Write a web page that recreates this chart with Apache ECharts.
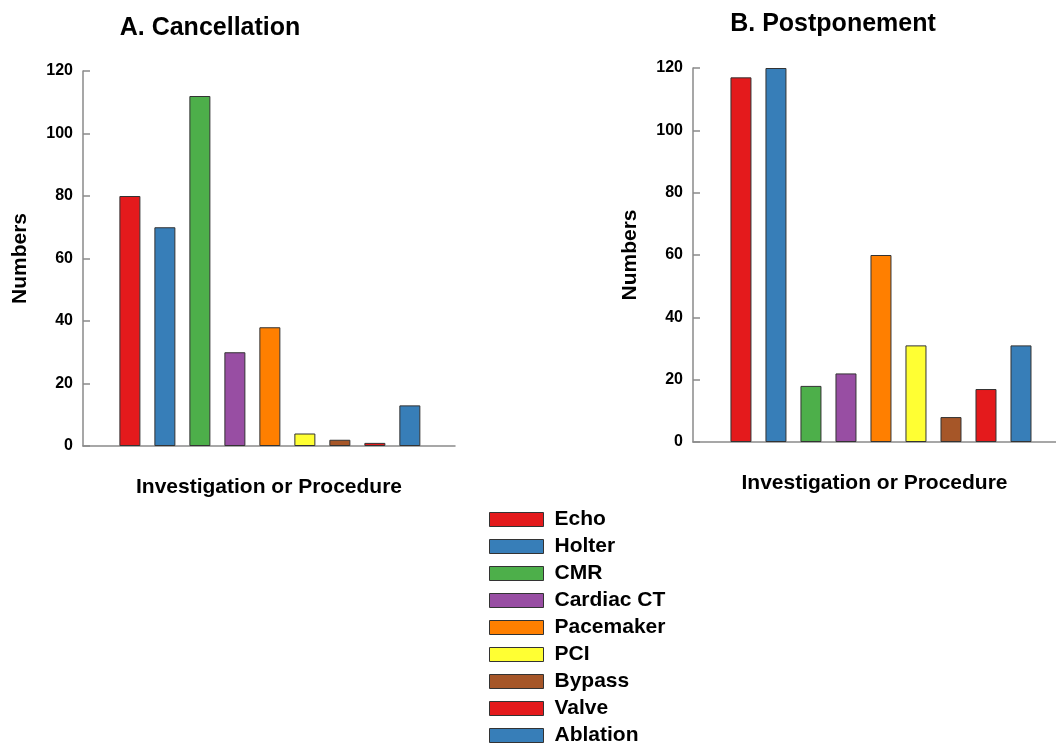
<!DOCTYPE html>
<html>
<head>
<meta charset="utf-8">
<script src="https://cdn.jsdelivr.net/npm/echarts@6/dist/echarts.min.js"></script>
<style>
  html, body { margin: 0; padding: 0; background: #fff; }
  #main { width: 1056px; height: 745px; }
</style>
</head>
<body>
<div id="main"></div>
<script>
  // categories and colours (one bar per category)
  var categories = ['Echo', 'Holter', 'CMR', 'Cardiac CT', 'Pacemaker', 'PCI', 'Bypass', 'Valve', 'Ablation'];
  var colors = ['#E41A1C', '#377EB8', '#4DAF4A', '#984EA3', '#FF7F00', '#FFFF33', '#A65628', '#E41A1C', '#377EB8'];
  var cancellation = [80, 70, 112, 30, 38, 4, 2, 1, 13];
  var postponement = [117, 120, 18, 22, 60, 31, 8, 17, 31];
  var yTicks = [0, 20, 40, 60, 80, 100, 120];

  var font = '"Liberation Sans", Arial, sans-serif';
  var axisGray = '#8a8a8a';

  function xAxisOpt(idx, min, max) {
    return {
      gridIndex: idx,
      type: 'value',
      min: min,
      max: max,
      name: 'Investigation or Procedure',
      nameLocation: 'middle',
      nameGap: 31,
      nameTextStyle: { fontFamily: font, fontWeight: 'bold', fontSize: 21, color: '#000' },
      axisLine: { show: true, onZero: false, lineStyle: { color: axisGray, width: 1.5 } },
      axisTick: { show: false },
      axisLabel: { show: false },
      splitLine: { show: false }
    }
  }

  function yAxisOpt(idx) {
    return {
      gridIndex: idx,
      type: 'value',
      min: yTicks[0],
      max: yTicks[yTicks.length - 1],
      interval: 20,
      name: 'Numbers',
      nameLocation: 'middle',
      nameRotate: 90,
      nameGap: 52,
      nameTextStyle: { fontFamily: font, fontWeight: 'bold', fontSize: 21, color: '#000' },
      axisLine: { show: true, onZero: false, lineStyle: { color: axisGray, width: 1.5 } },
      axisTick: { show: true, inside: true, length: 7, lineStyle: { color: axisGray, width: 1.5 } },
      axisLabel: { fontFamily: font, fontWeight: 'bold', fontSize: 16, color: '#000', margin: 10 },
      splitLine: { show: false }
    }
  }

  var series = []
  ;[cancellation, postponement].forEach(function (vals, g) {
    categories.forEach(function (name, i) {
      series.push({
        name: name,
        type: 'bar',
        xAxisIndex: g,
        yAxisIndex: g,
        barWidth: 21,
        barGap: '-100%',
        data: [[i, vals[i]]],
        itemStyle: { color: colors[i], borderColor: '#333', borderWidth: 1 }
      })
    })
  })

  var myChart = echarts.init(document.getElementById('main'))
  myChart.setOption({
    animation: false,
    title: [{
      text: 'A. Cancellation',
      left: 205,
      top: 11,
      textAlign: 'center',
      textStyle: { fontFamily: font, fontWeight: 'bold', fontSize: 25, color: '#000' }
    }, {
      text: 'B. Postponement',
      left: 828,
      top: 7,
      textAlign: 'center',
      textStyle: { fontFamily: font, fontWeight: 'bold', fontSize: 25, color: '#000' }
    }],
    legend: {
      orient: 'vertical',
      left: 489,
      top: 509,
      height: 260,
      padding: 0,
      itemWidth: 54,
      itemHeight: 14,
      itemGap: 6,
      icon: 'rect',
      data: categories,
      itemStyle: { borderColor: '#333', borderWidth: 1 },
      textStyle: { fontFamily: font, fontWeight: 'bold', fontSize: 21, color: '#000', padding: [0, 0, 0, 6] }
    },
    grid: [
      { left: 83, top: 71, width: 372, height: 375 },
      { left: 693, top: 68, width: 363, height: 374 }
    ],
    xAxis: [xAxisOpt(0, -1.34, 9.29), xAxisOpt(1, -1.37, 9.0)],
    yAxis: [yAxisOpt(0), yAxisOpt(1)],
    series: series
  })
</script>
</body>
</html>
